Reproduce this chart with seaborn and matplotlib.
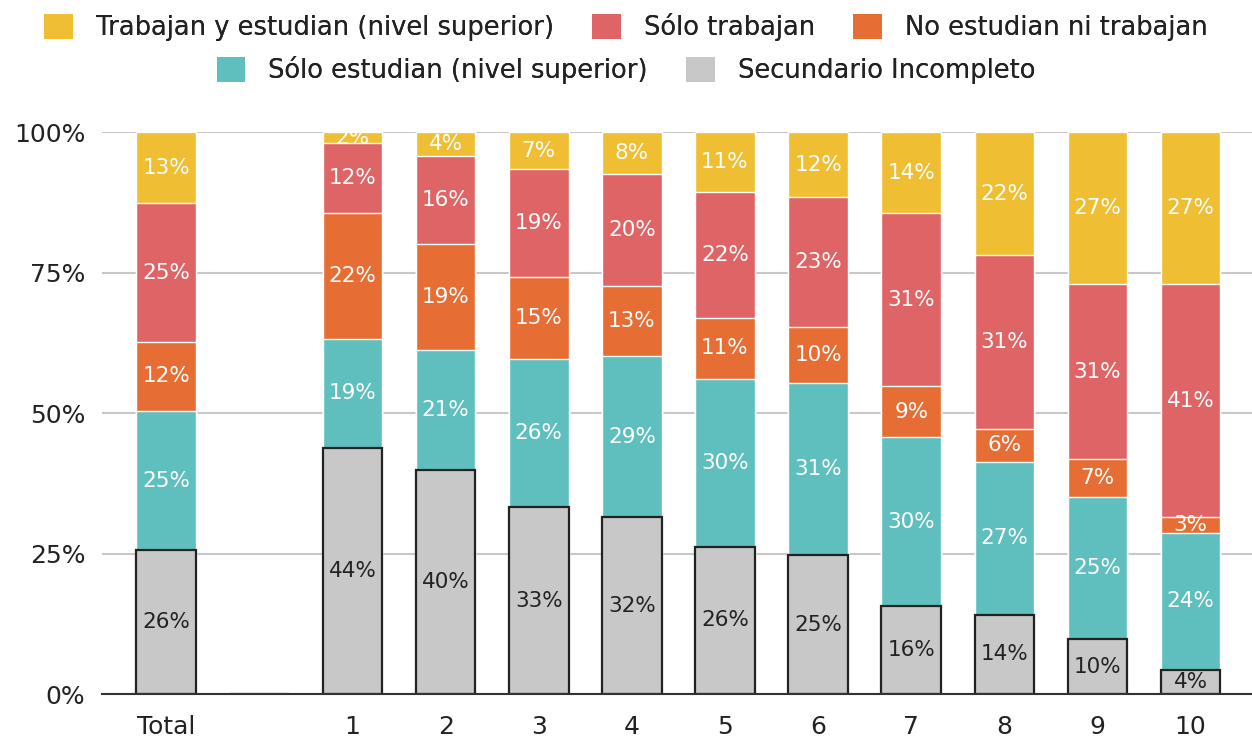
import numpy as np
import pandas as pd
import matplotlib
matplotlib.use("Agg")
import matplotlib.pyplot as plt
import seaborn as sns
from matplotlib.patches import Patch

# Datos (porcentajes por grupo)
categorias = ["Total", "", "1", "2", "3", "4", "5", "6", "7", "8", "9", "10"]
secundario_incompleto = [25.6, 0, 43.8, 39.9, 33.3, 31.5, 26.2, 24.7, 15.7, 14.1, 9.8, 4.3]
solo_estudian = [24.8, 0, 19.4, 21.3, 26.3, 28.6, 29.9, 30.6, 30.0, 27.2, 25.3, 24.4]
no_estudian_ni_trabajan = [12.3, 0, 22.4, 18.9, 14.6, 12.6, 10.9, 10.0, 9.1, 5.9, 6.7, 2.8]
solo_trabajan = [24.6, 0, 12.4, 15.6, 19.2, 19.8, 22.4, 23.1, 30.8, 30.9, 31.2, 41.4]
trabajan_y_estudian = [12.7, 0, 2.0, 4.3, 6.6, 7.5, 10.6, 11.6, 14.4, 21.9, 27.0, 27.1]

# Capas de abajo hacia arriba
capas = [
    ("Secundario Incompleto", secundario_incompleto, "#c8c8c8"),
    ("Sólo estudian (nivel superior)", solo_estudian, "#5ebfbe"),
    ("No estudian ni trabajan", no_estudian_ni_trabajan, "#e66d33"),
    ("Sólo trabajan", solo_trabajan, "#df6466"),
    ("Trabajan y estudian (nivel superior)", trabajan_y_estudian, "#f0be32"),
]

df = pd.DataFrame({"cat": categorias})
acum = np.zeros(len(categorias))
bases = []
for nombre, vals, col in capas:
    bases.append(acum.copy())
    acum = acum + np.array(vals) / 100
    df[nombre] = acum

sns.set_style("white")
plt.rcParams["font.family"] = ["DejaVu Sans"]

fig = plt.figure(figsize=(12.52, 7.4), dpi=100)
ax = fig.add_axes([0.0815, 0.062, 0.9185, 0.7595])

# Barras apiladas: primero la capa superior (acumulado total), luego hacia abajo
for nombre, vals, col in reversed(capas):
    gris = nombre == "Secundario Incompleto"
    sns.barplot(data=df, x="cat", y=nombre, order=categorias, color=col,
                width=0.64, saturation=1, ax=ax,
                edgecolor="#222222" if gris else "white",
                linewidth=1.6 if gris else 1.0)

# Etiquetas de porcentaje
for (nombre, vals, col), base in zip(capas, bases):
    color_txt = "#222222" if nombre == "Secundario Incompleto" else "white"
    for i, v in enumerate(vals):
        if v <= 0:
            continue
        ax.text(i, base[i] + v / 200, f"{v:.0f}%", ha="center", va="center",
                fontsize=15.5, color=color_txt)

ax.set_ylim(0, 1.0)
ax.set_xlim(-0.69, 11.66)
ax.set_yticks([0, 0.25, 0.5, 0.75, 1.0])
ax.set_yticklabels(["0%", "25%", "50%", "75%", "100%"])
ax.yaxis.grid(True, color="#c8c8c8", linewidth=1.5)
ax.xaxis.grid(False)
ax.set_axisbelow(True)
ax.set_xlabel("")
ax.set_ylabel("")
ax.tick_params(axis="both", labelsize=18, length=0, colors="#222222")
ax.tick_params(axis="y", pad=12)
ax.tick_params(axis="x", pad=15)
for s in ["top", "right", "left"]:
    ax.spines[s].set_visible(False)
ax.spines["bottom"].set_color("#333333")
ax.spines["bottom"].set_linewidth(1.5)

# Leyenda en dos filas
colores = {n: c for n, v, c in capas}
fila1 = ["Trabajan y estudian (nivel superior)", "Sólo trabajan", "No estudian ni trabajan"]
fila2 = ["Sólo estudian (nivel superior)", "Secundario Incompleto"]
for fila, y in [(fila1, 0.963), (fila2, 0.905)]:
    handles = [Patch(facecolor=colores[n], edgecolor="none") for n in fila]
    leg = fig.legend(handles, fila, loc="center", bbox_to_anchor=(0.5, y), ncol=len(fila),
                     frameon=False, fontsize=18.5, handlelength=1.1, handleheight=1.1,
                     columnspacing=1.5, handletextpad=0.9)
    for t in leg.get_texts():
        t.set_color("#222222")
    fig.add_artist(leg)

fig.savefig("out.png", dpi=100)
